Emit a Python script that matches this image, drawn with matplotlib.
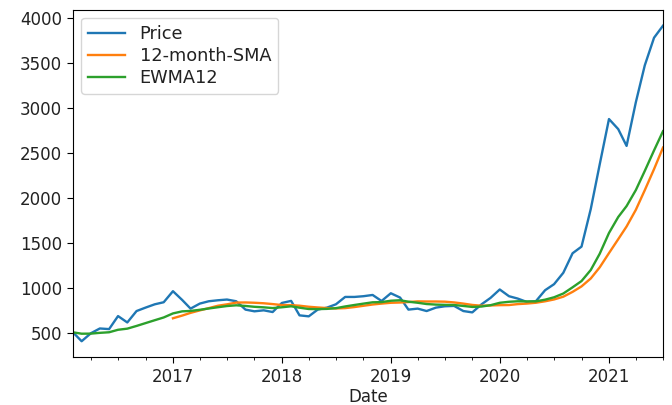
import numpy as np
import pandas as pd
import matplotlib
matplotlib.use('Agg')
import matplotlib.pyplot as plt
import matplotlib.dates as mdates

# monthly observations, Feb 2016 .. Jul 2021
dates = pd.date_range('2016-02-01', periods=66, freq='MS')

price = [505, 406, 495, 548, 541, 686, 615, 742, 780, 817, 840,
         963, 865, 769, 825, 851, 862, 870, 851, 758, 739, 750, 731,
         832, 855, 694, 683, 758, 780, 817, 899, 899, 907, 921, 854,
         940, 892, 758, 769, 742, 780, 795, 799, 742, 727, 817, 888,
         982, 907, 881, 843, 851, 974, 1041, 1168, 1385, 1459, 1878, 2375,
         2879, 2767, 2580, 3066, 3477, 3784, 3918]

# SMA only exists from Jan 2017 on
sma_start = 11
sma = [661.5, 691.5, 721.8, 749.3, 774.5, 801.3, 816.6, 836.3, 837.6, 834.2, 828.6, 819.5,
       808.6, 807.8, 801.5, 789.7, 781.9, 775.1, 770.7, 774.7, 786.4, 800.4, 814.7, 824.9,
       833.9, 837.0, 842.3, 849.5, 848.2, 848.2, 846.3, 838.0, 824.9, 809.9, 801.3, 804.1,
       807.6, 808.8, 819.1, 825.3, 834.3, 850.5, 871.0, 901.8, 955.3, 1016.3, 1104.8, 1228.7,
       1386.8, 1541.8, 1683.3, 1868.6, 2087.4, 2321.6, 2561.3]

ewma = [505.0, 489.8, 490.6, 499.4, 505.8, 533.5, 546.0, 576.2, 607.6, 639.8, 670.6,
        715.6, 738.6, 743.3, 755.9, 770.5, 784.6, 797.7, 805.9, 798.5, 789.3, 783.3, 775.3,
        784.0, 794.9, 779.4, 764.6, 763.6, 766.1, 773.9, 793.1, 809.4, 824.4, 839.3, 841.6,
        856.7, 862.1, 846.1, 834.2, 820.0, 813.8, 810.9, 809.1, 798.8, 787.8, 792.3, 807.0,
        833.9, 845.1, 850.6, 849.4, 849.6, 868.7, 895.2, 937.2, 1006.1, 1075.8, 1199.2, 1380.1,
        1610.7, 1788.6, 1910.4, 2088.2, 2301.9, 2529.9, 2743.5]

fig = plt.figure(figsize=(6.72, 4.05), dpi=100)
ax = fig.add_axes([0.1086, 0.1185, 0.878, 0.857])

ax.plot(dates, price, color='#1f77b4', lw=1.7, label='Price')
ax.plot(dates[sma_start:], sma, color='#ff7f0e', lw=1.7, label='12-month-SMA')
ax.plot(dates, ewma, color='#2ca02c', lw=1.7, label='EWMA12')

ax.set_xlim(dates[0], dates[-1])
ax.set_yticks(np.arange(500, 4001, 500))
ax.xaxis.set_major_locator(mdates.YearLocator())
ax.xaxis.set_major_formatter(mdates.DateFormatter('%Y'))
ax.xaxis.set_minor_locator(mdates.MonthLocator(bymonth=[1, 4, 7, 10]))
ax.tick_params(axis='both', which='major', labelsize=12, length=4.5, labelcolor='#222222')
ax.tick_params(axis='x', which='minor', length=2.5)

ax.set_xlabel('Date', fontsize=12, labelpad=1, color='#222222')
leg = ax.legend(loc='upper left', fontsize=12.8, labelspacing=0.22,
                borderaxespad=0.45, handlelength=2.1)
for t in leg.get_texts():
    t.set_color('#222222')

plt.savefig('out.png', dpi=100)
